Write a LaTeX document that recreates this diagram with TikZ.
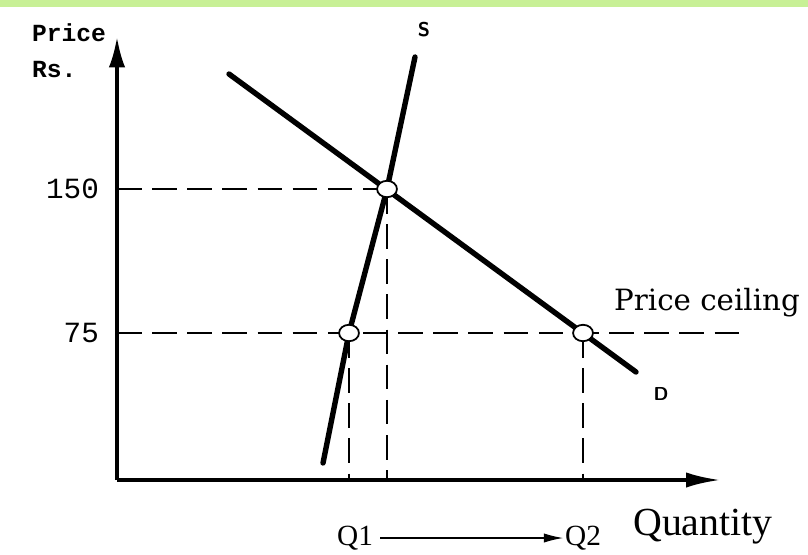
\documentclass[tikz,border=0pt]{standalone}
\usepackage{fontspec}
\setmainfont{DejaVu Serif}
\newfontfamily\monofont{Liberation Mono}
\newfontfamily\qtyfont{Liberation Serif}
\usetikzlibrary{arrows.meta}
\definecolor{topbar}{RGB}{200,240,150}
\tikzset{
  axisline/.style={line width=2.8pt},
  curveline/.style={line width=4.6pt, line cap=round},
  guideline/.style={line width=1.6pt, dash pattern=on 21pt off 9pt},
  pointmark/.style={ellipse, draw, fill=white, line width=1.5pt, inner sep=0pt, minimum width=17pt, minimum height=14pt}
}
\usetikzlibrary{shapes.geometric}
\begin{document}
\begin{tikzpicture}[x=0.03cm, y=-0.03cm, >=latex]
    \useasboundingbox (0,0) rectangle (808,554);
    \fill[topbar] (0,0) rectangle (808,7);
    % axes
    \coordinate (O) at (117,480);
    \coordinate (ytop) at (117,37);
    \coordinate (xend) at (720,480);
    \draw[axisline, -{Latex[length=26pt, width=14pt]}] (O) -- (ytop);
    \draw[axisline, -{Latex[length=29pt, width=13pt]}] (O) -- (xend);
    \draw (28,33)node[anchor=west, font=\monofont\bfseries\fontsize{21}{21}\selectfont, name=ylab]{Price};
    \draw (28,70)node[anchor=west, font=\monofont\bfseries\fontsize{21}{21}\selectfont, name=ycur]{Rs.};
    % curves
    \coordinate (S1) at (323,463);
    \coordinate (S2) at (415,57);
    \coordinate (D1) at (229,74);
    \coordinate (D2) at (636,372);
    \coordinate (A) at (349,333);
    \coordinate (E) at (387,189);
    \coordinate (B) at (583,333);
    \draw[curveline] (S1) -- (A) -- (E) -- (S2);
    \draw[curveline] (D1) -- (D2);
    \draw (424,30)node[font=\sffamily\bfseries\fontsize{17}{17}\selectfont, name=slab]{S};
    \draw (661,394)node[font=\sffamily\bfseries\fontsize{16}{16}\selectfont, name=dlab]{D};
    % price lines
    \coordinate (p150) at (117,189);
    \coordinate (p75) at (117,333);
    \coordinate (ceil) at (740,333);
    \draw[guideline] (p150) -- (E);
    \draw[guideline] (p75) -- (ceil);
    \draw[guideline] (A) -- (A |- O);
    \draw[guideline] (E) -- (E |- O);
    \draw[guideline] (B) -- (B |- O);
    \draw (p150)++(-14,0)node[anchor=east, font=\monofont\fontsize{25}{25}\selectfont, name=l150]{150};
    \draw (p75)++(-14,0)node[anchor=east, font=\monofont\fontsize{25}{25}\selectfont, name=l75]{75};
    \draw (707,303)node[font=\fontsize{25}{25}\selectfont, name=ceillab]{Price ceiling};
    \node[pointmark] (EA) at (A) {};
    \node[pointmark] (EE) at (E) {};
    \node[pointmark] (EB) at (B) {};
    % quantities
    \draw (355,538)node[font=\qtyfont\fontsize{25}{25}\selectfont, inner sep=1pt, name=Q1]{Q1};
    \draw (583,538)node[font=\qtyfont\fontsize{25}{25}\selectfont, inner sep=1pt, name=Q2]{Q2};
    \draw[line width=1.6pt, -{Latex[length=17pt, width=8pt]}] (Q1.east)++(6,0) -- (Q2.west);
    \draw (703,527)node[font=\qtyfont\fontsize{34}{34}\selectfont, name=qlab]{Quantity};
\end{tikzpicture}
\end{document}
